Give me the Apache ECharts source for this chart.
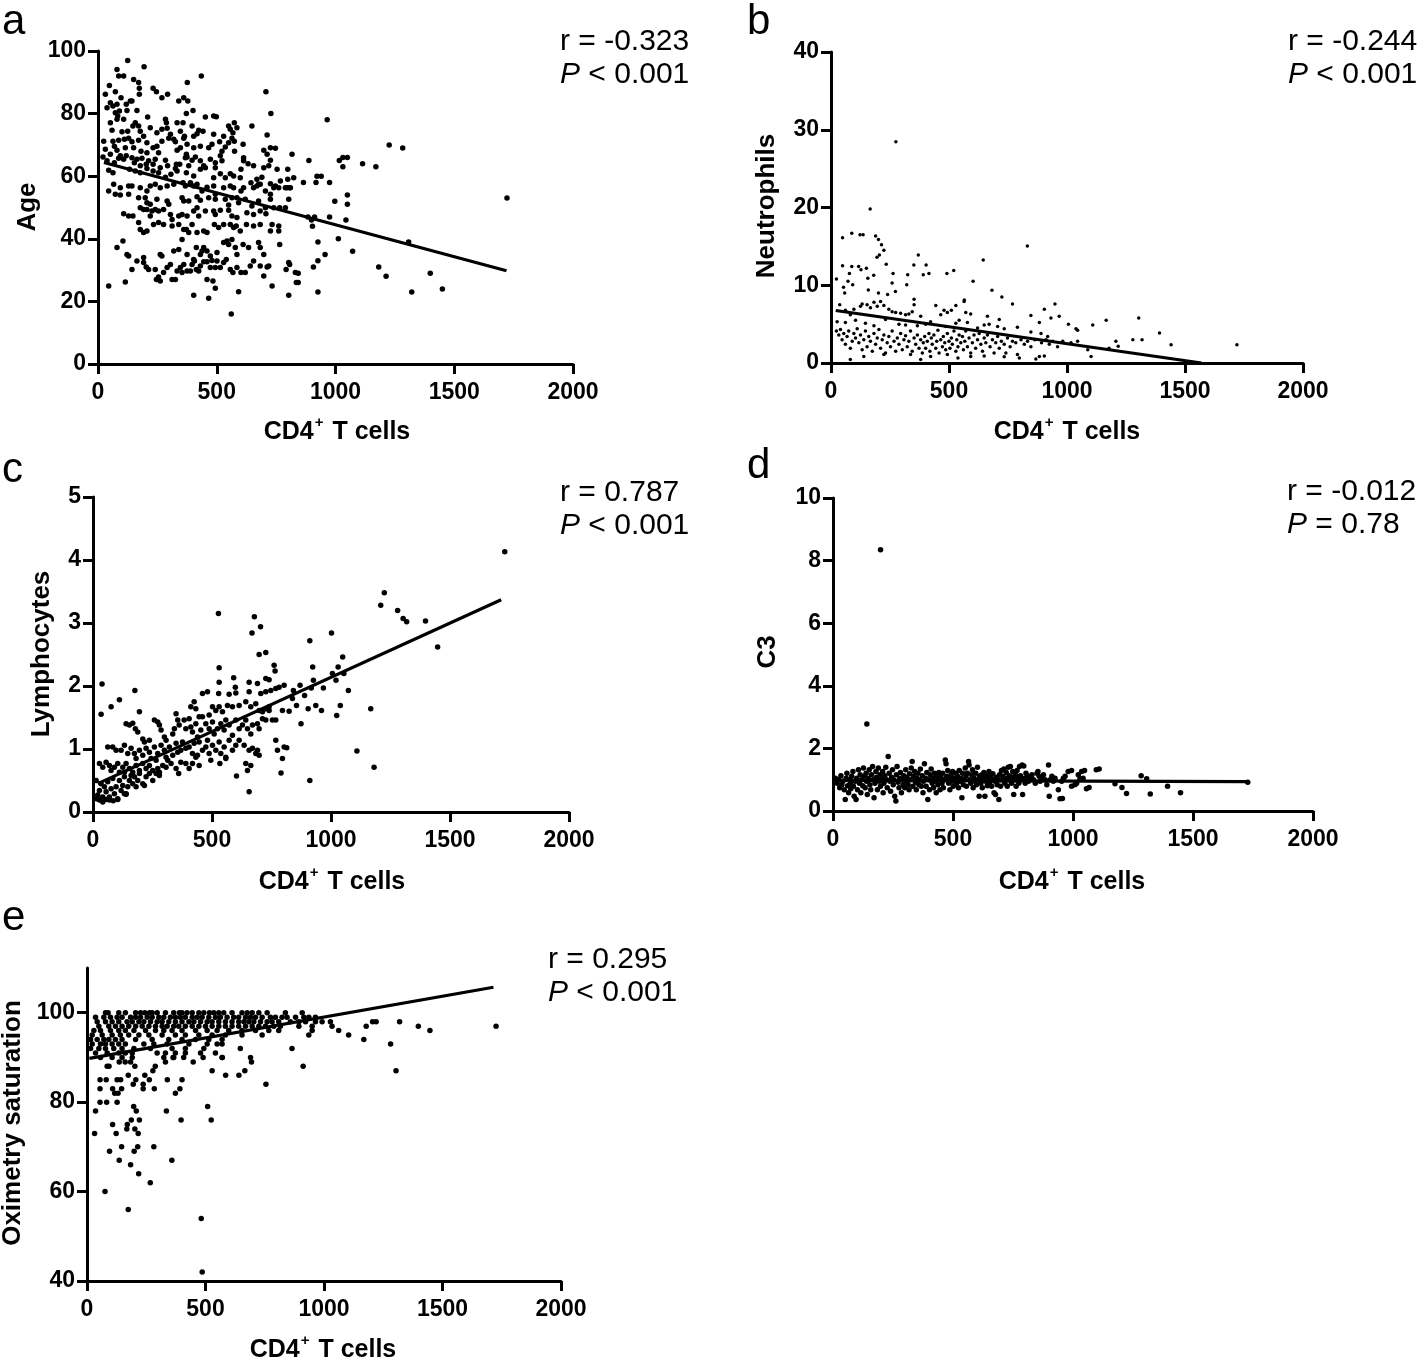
<!DOCTYPE html>
<html>
<head>
<meta charset="utf-8">
<script src="https://cdn.jsdelivr.net/npm/echarts@6/dist/echarts.min.js"></script>
<style>
html,body{margin:0;padding:0;background:#fff;}
#chart{width:1418px;height:1361px;}
</style>
</head>
<body>
<div id="chart"></div>
<script>
// ---------- shared axis ticks ----------
const xTicks = [0, 500, 1000, 1500, 2000];
const yTicksA = [0, 20, 40, 60, 80, 100];
const yTicksB = [0, 10, 20, 30, 40];
const yTicksC = [0, 1, 2, 3, 4, 5];
const yTicksD = [0, 2, 4, 6, 8, 10];
const yTicksE = [40, 60, 80, 100];

// ---------- panel letters & stats ----------
const panelLetters = ['a', 'b', 'c', 'd', 'e'];
const statR = ['r = -0.323', 'r = -0.244', 'r = 0.787', 'r = -0.012', 'r = 0.295'];
const statP = ['< 0.001', '< 0.001', '< 0.001', '= 0.78', '< 0.001'];
const yTitles = ['Age', 'Neutrophils', 'Lymphocytes', 'C3', 'Oximetry saturation'];

// ---------- a: Age vs CD4+ ----------
const ageData = [
[125,97.0],[194,95.0],[80,94.1],[87,92.0],[108,92.0],[435,92.0],[150,90.9],[171,89.9],[376,89.9],[48,89.0],[232,88.1],[174,88.1],[73,87.0],[31,86.2],[246,87.0],[707,87.0],[174,86.2],[293,86.2],[269,85.1],[136,84.0],[361,85.1],[340,84.0],[378,84.0],[97,85.1],[52,83.5],[80,83.0],[63,82.4],[119,83.0],[143,84.0],[38,81.9],[90,80.8],[122,81.0],[73,80.3],[83,79.2],[164,81.0],[372,80.0],[400,81.0],[728,80.0],[80,78.2],[108,78.2],[209,78.9],[487,79.2],[498,79.0],[452,78.9],[284,78.2],[288,77.1],[52,77.1],[147,76.0],[171,76.0],[157,77.1],[220,75.5],[269,75.0],[291,75.3],[333,77.1],[358,77.1],[396,76.0],[424,74.7],[442,74.4],[574,77.1],[585,75.5],[648,76.0],[550,76.0],[557,75.0],
[59,74.7],[101,74.2],[125,74.4],[178,74.4],[192,72.8],[248,73.9],[305,73.4],[319,71.8],[347,74.4],[364,72.8],[403,72.8],[361,72.1],[417,73.6],[487,73.4],[529,72.8],[564,72.1],[568,73.9],[574,71.2],[712,73.2],[24,71.2],[63,71.2],[87,71.5],[111,71.8],[129,72.1],[143,71.0],[171,71.5],[206,70.7],[248,69.6],[269,71.2],[298,72.1],[326,71.0],[347,69.1],[375,70.2],[403,69.1],[431,69.6],[466,69.1],[480,70.2],[512,71.0],[536,69.3],[550,70.7],[611,70.2],[698,68.3],[726,69.1],[747,68.9],
[31,68.6],[69,69.6],[80,68.3],[115,69.1],[150,69.1],[181,68.0],[232,69.1],[206,67.5],[255,67.5],[333,68.3],[372,67.0],[410,66.1],[375,66.1],[431,64.9],[473,65.4],[515,66.5],[522,68.0],[575,68.0],[52,67.0],[21,66.1],[94,66.5],[119,66.5],[143,65.9],[164,65.4],[185,65.7],[213,64.9],[241,65.4],[284,65.1],[330,63.8],[368,65.9],[396,65.1],[445,63.3],[494,64.3],[522,64.9],[613,65.9],[632,64.0],[712,67.0],[726,65.1],[817,67.0],
[38,64.9],[69,64.3],[87,65.7],[108,65.4],[153,64.3],[178,63.3],[203,63.8],[232,63.8],[262,62.7],[293,63.3],[326,62.5],[344,63.8],[382,63.3],[431,62.2],[452,62.7],[494,62.7],[515,60.8],[557,60.8],[571,60.1],[602,62.2],[613,64.9],[655,63.3],[698,62.7],[719,63.3],[754,62.2],[799,62.2],
[45,61.9],[63,61.1],[133,62.2],[157,61.7],[178,61.1],[206,62.5],[232,61.7],[255,61.1],[284,59.7],[307,60.6],[333,61.7],[372,61.1],[403,60.1],[487,59.5],[536,59.5],[599,59.5],[644,57.9],[669,59.0],[676,57.4],[690,59.7],[726,57.6],[747,56.9],[768,58.5],[789,56.3],[799,59.0],[807,56.3],[824,59.5],
[66,57.4],[94,56.3],[129,56.9],[143,56.9],[178,56.3],[206,55.3],[220,56.9],[241,57.4],[262,56.3],[291,56.9],[319,57.4],[358,57.9],[368,56.9],[389,57.9],[403,56.9],[417,57.4],[438,55.3],[459,56.5],[487,56.9],[494,54.2],[529,56.3],[557,56.9],[571,56.3],[585,53.1],[602,55.3],[613,56.3],[655,56.3],[669,56.9],[683,57.4],[705,55.3],[726,54.2],[740,56.3],[761,56.3],[796,56.3],[810,56.3],
[45,55.3],[73,54.2],[94,54.0],[129,54.2],[171,53.1],[199,53.1],[206,51.5],[220,51.0],[248,52.6],[291,52.1],[298,51.0],[354,53.1],[361,52.1],[382,52.1],[417,53.4],[431,52.3],[466,53.1],[494,52.6],[536,52.6],[550,50.8],[564,53.1],[592,51.5],[620,52.6],[648,50.5],[676,52.1],[705,49.9],[726,52.6],[740,49.9],[765,49.9],[789,49.9],[803,52.6],
[108,48.0],[129,47.3],[147,47.3],[178,49.9],[192,49.4],[206,49.4],[227,48.9],[241,49.4],[220,47.3],[255,48.9],[276,49.4],[305,47.8],[312,46.2],[340,47.3],[354,47.8],[375,47.3],[403,48.9],[417,49.9],[424,47.3],[452,48.9],[487,48.9],[494,47.8],[515,49.1],[550,49.1],[564,47.3],[585,46.8],[627,48.3],[655,47.8],[683,48.9],[707,48.0],[733,44.6],[761,44.1],[761,42.5],
[171,45.2],[178,43.0],[192,42.0],[206,42.5],[234,44.6],[255,45.2],[276,44.6],[312,44.1],[340,44.6],[361,43.0],[372,43.0],[382,42.0],[396,44.6],[417,42.0],[445,42.5],[459,42.0],[490,44.6],[508,43.6],[529,44.6],[557,44.6],[571,43.6],[582,44.1],[599,42.5],[625,44.6],[655,44.1],[683,44.6],[726,42.5],
[80,37.2],[105,39.3],[122,35.0],[129,34.5],[164,32.9],[192,34.0],[262,35.0],[269,34.5],[319,36.1],[340,36.6],[354,39.8],[375,35.0],[403,33.4],[414,37.2],[431,35.0],[438,36.1],[445,37.2],[459,36.1],[473,34.5],[501,35.6],[529,38.8],[543,39.3],[550,38.2],[564,39.8],[578,37.2],[585,35.0],[611,38.2],[634,37.2],[655,32.9],[676,38.8],[683,37.2],[698,35.0],[719,31.3],[765,38.2],[803,32.4],
[143,30.2],[192,32.4],[203,31.0],[213,30.2],[241,30.2],[246,27.0],[255,27.8],[262,26.5],[276,29.2],[291,30.8],[305,31.8],[312,27.0],[326,27.0],[333,29.7],[347,30.8],[354,29.2],[361,31.8],[375,29.7],[389,29.7],[396,31.8],[406,32.9],[414,30.2],[424,29.7],[431,31.3],[445,32.7],[459,32.7],[473,30.8],[480,33.1],[494,30.8],[501,32.9],[515,30.8],[529,32.4],[540,33.4],[557,30.2],[568,29.2],[585,30.8],[602,29.2],[620,29.2],[641,31.3],[683,31.3],[698,28.1],[712,31.0],[792,30.2],[807,31.8],[831,29.2],
[45,24.9],[115,26.2],[459,27.0],[484,26.5],[494,24.2],[403,22.0],[466,21.0],[592,23.1],[733,24.9],[803,22.0],[835,26.0],[561,16],
[843,29],[843,26],[865,58],[884,47],[888,65],[899,46],[903,44],[907,31],[912,47],[918,58],[922,60],[926,39],[926,33],[926,23],[940,60],[956,35],[965,78],[975,58],[975,47],[997,52],[1012,40],[1016,65],[1031,63],[1031,66],[1050,66],[1044,46],[1050,51],[1050,54],[1072,36],[1114,64],[1170,63],[1182,31],[1213,28],[1226,70],[1283,69],[1308,39],[1321,23],[1399,29],[1450,24],[1722,53]
];
const ageFit = [[25, 64.4], [1720, 29.8]];

// ---------- b: Neutrophils vs CD4+ ----------
const neutroData = [
[23,10.8],[49,16.1],[49,12.5],[53,9.75],[58,9.0],[72,10.5],[78,11.5],[88,16.7],[88,12.4],[92,10.05],[117,12.4],[123,16.5],[127,12.0],[136,16.5],[150,12.2],[156,10.9],[158,9.4],[166,19.8],[181,11.3],[189,16.35],[195,13.6],[201,15.9],[201,9.0],[205,13.9],[214,15.2],[224,14.5],[234,12.7],[240,8.8],[259,10.3],[263,11.5],[273,9.2],[275,28.45],[321,10.05],[325,11.35],[351,12.6],[352,8.2],[370,13.9],[391,11.35],[403,12.6],[415,11.5],[491,11.5],[520,11.9],[565,8.1],[602,10.5],[645,13.25],[682,9.35],[724,8.5],[832,15.05],
[1178,1.9],[1207,2.8],[1217,2.15],[1279,3.0],[1304,5.8],[1318,3.0],[1392,3.85],[1441,2.35],[1720,2.35],
[37,7.5],[61,6.8],[82,6.2],[97,6.9],[125,7.3],[132,7.6],[153,7.5],[167,7.1],[182,7.8],[196,7.3],[210,7.9],[224,7.4],[245,6.9],[259,6.6],[274,6.5],[295,6.4],[316,6.2],[330,6.3],[344,6.6],[352,7.5],[380,6.0],[444,7.4],[465,6.2],[479,6.8],[493,6.5],[510,6.8],[529,7.4],[564,7.9],[571,6.5],[592,6.3],[663,6.0],[713,5.6],[769,7.6],[847,6.1],[883,5.2],[904,6.9],[932,5.8],[949,7.6],[967,6.0],[1006,5.0],[1038,4.4],[1045,4.2],[1109,4.9],[1166,5.5],
[26,5.3],[61,5.2],[104,5.5],[146,5.1],[182,4.8],[231,5.6],[288,5.0],[316,4.9],[366,4.8],[401,5.0],[422,5.3],[486,4.7],[529,5.1],[543,5.5],[578,5.2],[621,4.5],[649,4.9],[670,5.0],[706,4.7],[734,4.4],[790,4.6],[847,4.0],[890,3.8],[918,3.4],
[23,4.1],[33,3.6],[40,4.3],[47,3.0],[54,3.8],[61,2.4],[68,3.4],[75,4.1],[82,1.9],[90,2.8],[97,3.8],[104,3.2],[111,4.4],[118,2.6],[125,3.6],[132,1.7],[139,3.0],[146,4.1],[153,2.1],[160,3.4],[167,2.8],[175,1.5],[182,3.8],[189,2.4],[196,3.2],[203,4.3],[210,1.9],[217,3.0],[224,3.6],[231,1.3],[238,2.6],[245,3.4],[252,2.1],[259,4.1],[267,2.8],[274,1.5],[281,3.2],[288,2.4],[295,3.8],[302,1.7],[309,3.0],[316,3.5],[323,2.1],[330,2.8],[337,4.1],[344,1.5],[352,3.2],[359,2.4],[366,3.6],[373,1.9],[380,3.0],[387,1.3],[391,2.6],[397,3.4],[401,1.9],[408,2.8],[415,3.8],[419,1.5],[425,3.2],[429,2.4],[436,3.6],[444,1.9],[448,2.8],[453,4.2],[458,1.3],[465,3.0],[472,2.1],[476,3.4],[482,2.6],[486,1.7],[493,3.8],[500,2.8],[504,1.9],[510,3.2],[514,2.4],[521,4.1],[529,1.5],[533,3.0],[538,2.1],[543,3.6],[550,2.6],[557,3.4],[561,1.7],[567,2.8],[571,4.1],[578,2.1],[585,3.2],[592,1.3],[599,2.6],[606,3.6],[613,1.9],[621,3.0],[628,3.8],[635,2.4],[642,1.5],[649,3.2],[656,2.6],[663,3.6],[674,2.1],[684,3.0],[691,1.3],[698,2.6],[706,3.4],[713,1.9],[722,2.8],[734,2.4],[741,1.3],[748,3.2],[759,2.1],[769,2.8],[783,2.6],[790,1.1],[805,3.0],[819,2.4],[833,2.8],[847,2.1],[864,3.0],[883,0.85],[892,2.6],[911,3.0],[925,2.4],[939,2.8],[960,2.1],[982,2.8],[1017,2.6],[1045,2.8],[1088,1.7],[1102,0.85],
[82,0.45],[139,0.85],[224,1.1],[337,1.1],[380,0.45],[422,0.85],[493,1.1],[538,0.65],[592,0.85],[649,0.9],[734,0.8],[798,0.65],[868,0.5],[904,0.9]
];
const neutroFit = [[20, 6.75], [1570, 0]];

// ---------- c: Lymphocytes vs CD4+ ----------
const lymphoData = [
[38,2.03],[34,1.55],[76,1.67],[111,1.78],[176,1.93],[195,1.59],[530,2.29],[530,2.06],[591,2.13],[598,1.98],[528,1.88],[572,1.87],[600,1.89],[656,1.91],[656,2.06],[698,2.50],[726,2.53],[761,2.33],[765,2.24],[726,2.12],[740,2.10],[691,2.04],[705,1.88],[726,1.91],[747,1.93],[768,1.96],[782,1.98],[803,2.01],[481,1.91],[460,1.88],[425,1.75],[411,1.67],[432,1.64],[460,1.51],[488,1.54],[502,1.67],[516,1.61],[530,1.67],[544,1.59],[565,1.69],[586,1.67],[614,1.69],[642,1.75],[663,1.67],[684,1.72],[698,1.61],[712,1.59],[726,1.64],[740,1.67],[754,1.46],[768,1.46],[796,1.61],[824,1.60],[838,1.80],
[139,1.40],[153,1.38],[167,1.41],[178,1.32],[188,1.27],[209,1.16],[216,1.11],[237,1.14],[258,1.46],[272,1.43],[279,1.38],[286,1.30],[300,1.19],[307,1.14],[335,1.24],[342,1.32],[349,1.56],[356,1.46],[362,1.38],[383,1.46],[390,1.32],[404,1.48],[411,1.35],[418,1.27],[432,1.40],[446,1.51],[439,1.19],[453,1.30],[474,1.40],[488,1.32],[502,1.43],[509,1.24],[523,1.32],[537,1.40],[551,1.30],[558,1.46],[572,1.38],[586,1.22],[600,1.46],[614,1.32],[628,1.38],[642,1.46],[649,1.32],[663,1.24],[670,1.38],[691,1.40],[698,1.32],[712,1.48],[726,1.46],[740,1.61],[768,1.14],[775,0.98],[796,0.85],[803,1.03],[814,1.02],[790,0.62],
[62,1.03],[83,1.03],[97,0.98],[118,0.98],[132,1.06],[146,0.93],[160,1.01],[174,0.93],[181,0.85],[195,0.98],[209,0.90],[223,1.01],[237,0.95],[244,0.85],[258,1.03],[272,0.93],[286,1.06],[300,0.98],[307,0.87],[321,1.03],[335,0.90],[349,1.09],[356,0.95],[369,0.98],[376,1.11],[390,1.01],[404,1.03],[418,0.93],[425,1.09],[439,0.90],[446,1.11],[460,0.98],[474,1.03],[481,1.14],[488,0.93],[502,1.06],[516,0.98],[530,1.11],[537,0.93],[551,1.03],[558,0.85],[572,1.14],[586,0.98],[600,1.06],[614,1.14],[635,1.06],[642,0.77],[656,0.98],[663,0.74],[670,1.01],[684,0.93],[691,0.98],[698,0.90],[649,0.66],[656,0.32],[603,0.57],
[27,0.77],[41,0.71],[55,0.79],[69,0.74],[76,0.66],[90,0.71],[104,0.77],[111,0.63],[125,0.71],[132,0.63],[139,0.77],[153,0.69],[167,0.63],[181,0.74],[195,0.66],[209,0.77],[223,0.69],[237,0.74],[251,0.66],[265,0.82],[272,0.69],[279,0.58],[293,0.74],[307,0.71],[314,0.82],[328,0.77],[349,0.69],[360,0.61],[369,0.79],[390,0.77],[404,0.69],[418,0.77],[432,0.87],[446,0.74],[495,0.82],[533,0.77],[558,0.87],
[13,0.50],[20,0.27],[27,0.34],[34,0.45],[41,0.24],[48,0.40],[55,0.32],[62,0.48],[69,0.24],[76,0.37],[83,0.53],[90,0.29],[97,0.40],[104,0.21],[111,0.50],[118,0.34],[125,0.42],[132,0.56],[139,0.29],[146,0.40],[153,0.50],[160,0.58],[167,0.45],[174,0.56],[181,0.40],[188,0.50],[195,0.61],[209,0.45],[216,0.42],[223,0.56],[237,0.61],[251,0.50],[265,0.61],[279,0.63],
[15,0.21],[27,0.19],[41,0.16],[55,0.20],[69,0.19],[85,0.18],[104,0.20],[132,0.29],[139,0.28],
[527,3.15],[668,2.84],[678,3.10],[704,2.94],
[842,1.93],[855,1.69],[870,2.01],[874,1.40],[889,1.85],[904,1.64],[911,2.72],[911,0.50],[917,1.97],[923,2.30],[926,2.09],[936,1.69],[960,1.61],[968,1.97],[1002,2.84],[1006,2.20],[1021,2.09],[1024,1.53],[1030,2.30],[1039,1.69],[1049,2.46],[1054,2.20],[1073,1.93],[1109,0.97],[1167,1.64],[1181,0.71],[1209,3.28],[1224,3.48],[1280,3.20],[1303,3.07],[1318,3.02],[1397,3.03],[1448,2.62],[1730,4.13]
];
const lymphoFit = [[20, 0.45], [1715, 3.37]];

// ---------- d: C3 vs CD4+ ----------
const c3Data = [
[198,8.35],[141,2.78],
[10,1.05],[17,0.89],[23,1.00],[28,0.74],[33,1.13],[37,0.84],[41,0.95],[47,0.68],[51,0.37],[55,1.05],[58,1.21],[61,0.81],[65,0.58],[69,1.00],[72,0.89],[74,0.71],[78,1.11],[83,1.26],[85,0.79],[88,0.47],[92,0.95],[96,0.37],[99,1.05],[102,0.68],[106,1.32],[110,0.89],[113,1.16],[116,0.58],[120,1.00],[124,0.81],[127,1.37],[129,1.11],[134,0.74],[138,1.21],[140,0.95],[143,0.53],[147,1.05],[151,1.32],[154,0.84],[157,0.68],[161,1.16],[165,1.42],[168,1.00],[171,0.42],[175,0.89],[179,1.26],[182,1.08],[185,0.68],[189,1.37],[193,0.95],[196,1.16],[198,0.79],[202,1.02],[207,1.26],[209,0.58],[212,0.89],[216,1.13],[220,1.40],[223,1.00],[226,0.74],[230,1.74],[234,1.21],[237,0.95],[240,0.63],[244,1.08],[248,1.32],[251,0.84],[253,1.00],[257,0.47],[262,0.32],[264,1.16],[267,1.42],[271,0.92],[275,0.74],[278,1.05],[281,1.23],[285,0.58],[289,1.00],[292,0.84],[295,1.13],[299,0.74],[303,1.32],[306,0.95],[308,1.08],[313,0.84],[317,0.68],[319,1.19],[322,1.00],[326,1.37],[330,1.58],[333,0.79],[336,1.11],[340,1.26],[344,0.92],[347,0.68],[350,1.05],[354,1.21],[358,0.84],[361,1.00],[364,1.34],[368,0.79],[372,1.13],[375,0.58],[377,0.95],[381,1.51],[386,1.05],[388,0.79],[391,1.23],[395,0.37],[399,1.00],[402,0.68],[405,1.16],[409,1.34],[413,0.89],[416,1.05],[419,0.74],[423,1.21],[427,0.95],[430,0.58],[432,1.11],[437,0.84],[441,1.23],[443,1.00],[446,0.68],[450,1.08],[454,0.89],[457,1.21],[460,0.74],[464,1.00],[468,1.63],[471,1.51],[474,1.11],[478,1.29],[482,0.89],[485,1.05],[487,0.68],[492,1.16],[496,0.95],[498,1.26],[501,0.79],[505,1.05],[509,1.00],[512,1.21],[515,0.89],[519,1.11],[523,0.74],[526,1.29],[529,0.95],[533,1.05],[537,0.42],[540,1.21],[543,0.84],[547,1.00],[551,1.37],[554,1.11],[556,0.79],[560,1.21],[565,1.58],[567,1.47],[570,1.00],[574,0.89],[578,1.16],[581,1.32],[584,0.74],[588,1.05],[592,0.95],[595,1.21],[598,0.84],[602,1.40],[606,1.00],[609,0.47],[611,1.11],[616,0.89],[620,1.16],[622,0.74],[625,1.02],[629,1.23],[633,0.47],[636,0.95],[639,1.13],[643,0.81],[647,1.05],[650,1.26],[653,0.92],[657,1.11],[661,0.79],[664,1.00],[666,1.19],[671,0.58],[675,0.95],[677,0.53],[680,1.08],[684,0.84],[689,1.00],[691,0.37],[694,1.16],[698,0.79],[702,1.29],[705,1.00],[708,1.11],[712,1.34],[716,0.89],[719,1.05],[722,1.23],[726,0.79],[730,1.40],[733,1.00],[735,1.13],[739,1.42],[744,0.89],[746,1.08],[749,1.26],[753,0.53],[757,1.00],[760,1.16],[763,0.79],[767,1.29],[771,1.05],[774,0.89],[777,1.42],[781,1.13],[785,1.00],[788,1.47],[790,0.53],[795,1.44],[799,1.05],[801,0.89],[804,1.21],[808,1.00],[812,1.11],[815,0.95],[822,1.05],[829,1.16],[836,1.00],[843,0.89],[850,1.21],[854,1.26],[859,1.11],[863,0.95],[870,1.05],[877,1.16],[884,1.00],[891,0.84],[898,1.47],[901,0.47],[905,1.00],[912,1.11],[918,0.95],[925,1.05],[939,0.68],[946,0.39],[953,0.95],[960,1.05],[967,1.11],[980,1.26],[994,0.79],[1008,0.84],[1015,0.89],[1022,1.16],[1036,1.26],[1042,1.05],[1056,0.71],[1097,1.32],
[1048,1.29],[994,1.29],[956,0.40],[1029,1.03],[1067,0.75],[1109,1.34],[1175,0.87],[1204,0.75],[1223,0.56],[1284,1.13],[1307,1.03],[1322,0.54],[1394,0.79],[1448,0.58],[1728,0.92]
];
const c3Fit = [[20, 0.98], [1725, 0.94]];

// ---------- e: Oximetry saturation vs CD4+ ----------
const oxiData = [
[78,100],[89,100],[134,100],[162,100],[205,100],[226,100],[244,100],[264,100],[275,100],[296,100],[331,100],[366,100],[390,100],[401,100],[422,100],[444,100],[472,100],[493,100],[517,100],[535,100],[556,100],[577,100],[612,100],[654,100],[676,100],[697,100],[725,100],[760,100],[837,100],[908,100],
[36,99],[71,99],[99,99],[127,99],[148,99],[184,99],[205,99],[226,99],[254,99],[275,99],[303,99],[324,99],[352,99],[373,99],[394,99],[415,99],[444,99],[465,99],[486,99],[514,99],[542,99],[563,99],[591,99],[619,99],[640,99],[669,99],[690,99],[711,99],[739,99],[774,99],[795,99],[823,99],[844,99],[880,99],[915,99],[936,99],[964,99],
[43,98],[78,98],[106,98],[134,98],[169,98],[191,98],[219,98],[240,98],[268,98],[296,98],[317,98],[345,98],[373,98],[401,98],[430,98],[451,98],[479,98],[507,98],[528,98],[556,98],[584,98],[612,98],[640,98],[662,98],[683,98],[704,98],[732,98],[760,98],[781,98],[809,98],[858,98],[894,98],[922,98],[964,98],[992,98],[1027,98],
[50,97],[92,97],[120,97],[148,97],[176,97],[205,97],[233,97],[261,97],[289,97],[317,97],[338,97],[366,97],[387,97],[415,97],[444,97],[472,97],[500,97],[528,97],[556,97],[584,97],[612,97],[640,97],[669,97],[697,97],[725,97],[753,97],[788,97],[816,97],[894,97],[950,97],[1034,97],
[29,96],[57,96],[99,96],[134,96],[162,96],[198,96],[247,96],[289,96],[324,96],[359,96],[401,96],[458,96],[507,96],[549,96],[598,96],[654,96],[711,96],[767,96],[809,96],[950,96],[1062,96],
[22,95],[64,95],[106,95],[141,95],[176,95],[219,95],[261,95],[317,95],[373,95],[415,95],[472,95],[528,95],[584,95],[654,95],[739,95],[936,95],[1104,95],
[15,94],[43,94],[71,94],[92,94],[120,94],[148,94],[205,94],[275,94],[345,94],[401,94],[458,94],[514,94],[570,94],[1168,94],
[22,93],[57,93],[78,93],[106,93],[134,93],[162,93],[240,93],[282,93],[338,93],[430,93],[507,93],[549,93],[570,93],
[15,92],[50,92],[78,92],[113,92],[148,92],[198,92],[268,92],[359,92],[415,92],[493,92],[647,92],[865,92],
[36,91],[85,91],[134,91],[162,91],[191,91],[296,91],[331,91],[373,91],[415,91],[479,91],[542,91],
[57,90],[106,90],[148,90],[191,90],[324,90],[366,90],[408,90],[570,90],[690,90],
[32,73],[36,78],[55,85],[55,83],[55,80],[76,60],[81,85],[83,80],[85,88],[93,88],[95,69],[108,75],[108,83],[117,82],[123,73],[127,85],[127,80],[131,82],[136,67],[136,89],[142,85],[146,70],[146,83],[161,89],[168,74],[170,75],[174,56],[174,86],[184,89],[184,66],[187,76],[195,84],[197,79],[199,69],[202,88],[202,74],[206,85],[208,78],[214,70],[216,73],[218,64],[221,76],[237,84],[237,83],[244,86],[263,85],[267,62],[278,87],[282,70],[284,83],[288,88],[331,89],[335,78],[339,85],[358,67],[363,90],[373,82],[392,83],[397,76],[401,85],[448,89],[482,54],[486,42],[490,90],[509,79],[524,76],[528,87],[571,90],[585,86],[641,86],[666,87],[694,89],[755,84],[912,88],
[1178,97],[1205,98],[1220,98],[1281,93],[1304,87],[1319,98],[1398,97],[1447,96],[1726,97]
];
const oxiFit = [[10, 89.8], [1715, 105.7]];

// ---------- layout ----------
const grids = [
  {left: 98,  top: 51,  width: 475, height: 313},
  {left: 831, top: 52,  width: 472, height: 311},
  {left: 93,  top: 497, width: 476, height: 315},
  {left: 833, top: 498, width: 480, height: 313},
  {left: 87,  top: 968, width: 474, height: 313}
];
const yRanges = [
  {min: 0, max: 100, interval: 20, ticks: yTicksA},
  {min: 0, max: 40, interval: 10, ticks: yTicksB},
  {min: 0, max: 5, interval: 1, ticks: yTicksC},
  {min: 0, max: 10, interval: 2, ticks: yTicksD},
  {min: 40, max: 110, interval: 20, ticks: yTicksE}
];
const scatterSets = [ageData, neutroData, lymphoData, c3Data, oxiData];
const fitSets = [ageFit, neutroFit, lymphoFit, c3Fit, oxiFit];
const dotSizes = [5.5, 3.5, 5.5, 5.5, 5.5];

const INK = '#000';
const SANS = '"Liberation Sans", Arial, sans-serif';
const tickFont = {fontFamily: SANS, fontWeight: 'bold', fontSize: 23, color: INK};
const plain = v => String(v);

const xAxes = grids.map((g, i) => ({
  gridIndex: i, type: 'value', min: 0, max: 2000, interval: 500,
  axisLine: {show: true, onZero: false, lineStyle: {color: INK, width: 3}},
  axisTick: {show: true, length: 10, lineStyle: {color: INK, width: 3}, customValues: xTicks},
  axisLabel: Object.assign({margin: 17, customValues: xTicks, formatter: plain}, tickFont),
  splitLine: {show: false}
}));
const yAxes = grids.map((g, i) => ({
  gridIndex: i, type: 'value', min: yRanges[i].min, max: yRanges[i].max, interval: yRanges[i].interval,
  axisLine: {show: true, onZero: false, lineStyle: {color: INK, width: 3}},
  axisTick: {show: true, length: 10, lineStyle: {color: INK, width: 3}, customValues: yRanges[i].ticks},
  axisLabel: Object.assign({margin: 12, customValues: yRanges[i].ticks, formatter: plain}, tickFont),
  splitLine: {show: false}
}));

const series = [];
scatterSets.forEach((d, i) => {
  series.push({
    type: 'scatter', xAxisIndex: i, yAxisIndex: i, data: d,
    symbol: 'circle', symbolSize: dotSizes[i], itemStyle: {color: INK, opacity: 1}, silent: true, z: 3
  });
  series.push({
    type: 'line', xAxisIndex: i, yAxisIndex: i, data: fitSets[i],
    showSymbol: false, lineStyle: {color: INK, width: 3.2}, silent: true, z: 4
  });
});

// ---------- text overlays ----------
const letterPos = [[2, 22], [747, 22], [2, 470], [747, 466], [2, 918]];
const statPos = [[560, 42], [1288, 42], [560, 493], [1287, 492], [548, 960]];
const yTitlePos = [[28, 207], [767, 206], [42, 654], [768, 652], [13, 1123]];
const xTitlePos = [[337, 430], [1067, 430], [332, 880], [1072, 880], [323, 1348]];

const graphics = [];
panelLetters.forEach((L, i) => {
  graphics.push({type: 'text', x: letterPos[i][0], y: letterPos[i][1],
    style: {text: L, font: '42px ' + SANS, fill: INK, textVerticalAlign: 'middle', textAlign: 'left'}});
  graphics.push({type: 'text', x: statPos[i][0], y: statPos[i][1],
    style: {text: statR[i], font: '30px ' + SANS, fill: INK, textVerticalAlign: 'middle', textAlign: 'left'}});
  graphics.push({type: 'text', x: statPos[i][0], y: statPos[i][1] + 33,
    style: {text: '{i|P} ' + statP[i], font: '30px ' + SANS, fill: INK, textVerticalAlign: 'middle', textAlign: 'left',
      rich: {i: {font: 'italic 30px ' + SANS, fill: INK}}}});
  graphics.push({type: 'text', x: yTitlePos[i][0], y: yTitlePos[i][1], rotation: Math.PI / 2,
    style: {text: yTitles[i], font: 'bold 26px ' + SANS, fill: INK, textVerticalAlign: 'middle', textAlign: 'center'}});
  graphics.push({type: 'text', x: xTitlePos[i][0], y: xTitlePos[i][1],
    style: {text: '{b|CD4}{s|+}{b| T cells}', fill: INK, textVerticalAlign: 'middle', textAlign: 'center',
      rich: {
        b: {font: 'bold 25px ' + SANS, fill: INK, lineHeight: 30, verticalAlign: 'bottom'},
        s: {font: 'bold 15px ' + SANS, fill: INK, lineHeight: 30, verticalAlign: 'top', padding: [0, 2, 0, 1]}
      }}});
});

const chart = echarts.init(document.getElementById('chart'), null, {renderer: 'canvas'});
chart.setOption({
  backgroundColor: '#fff',
  animation: false,
  grid: grids.map(g => Object.assign({containLabel: false}, g)),
  xAxis: xAxes,
  yAxis: yAxes,
  series: series,
  graphic: graphics
});
</script>
</body>
</html>
